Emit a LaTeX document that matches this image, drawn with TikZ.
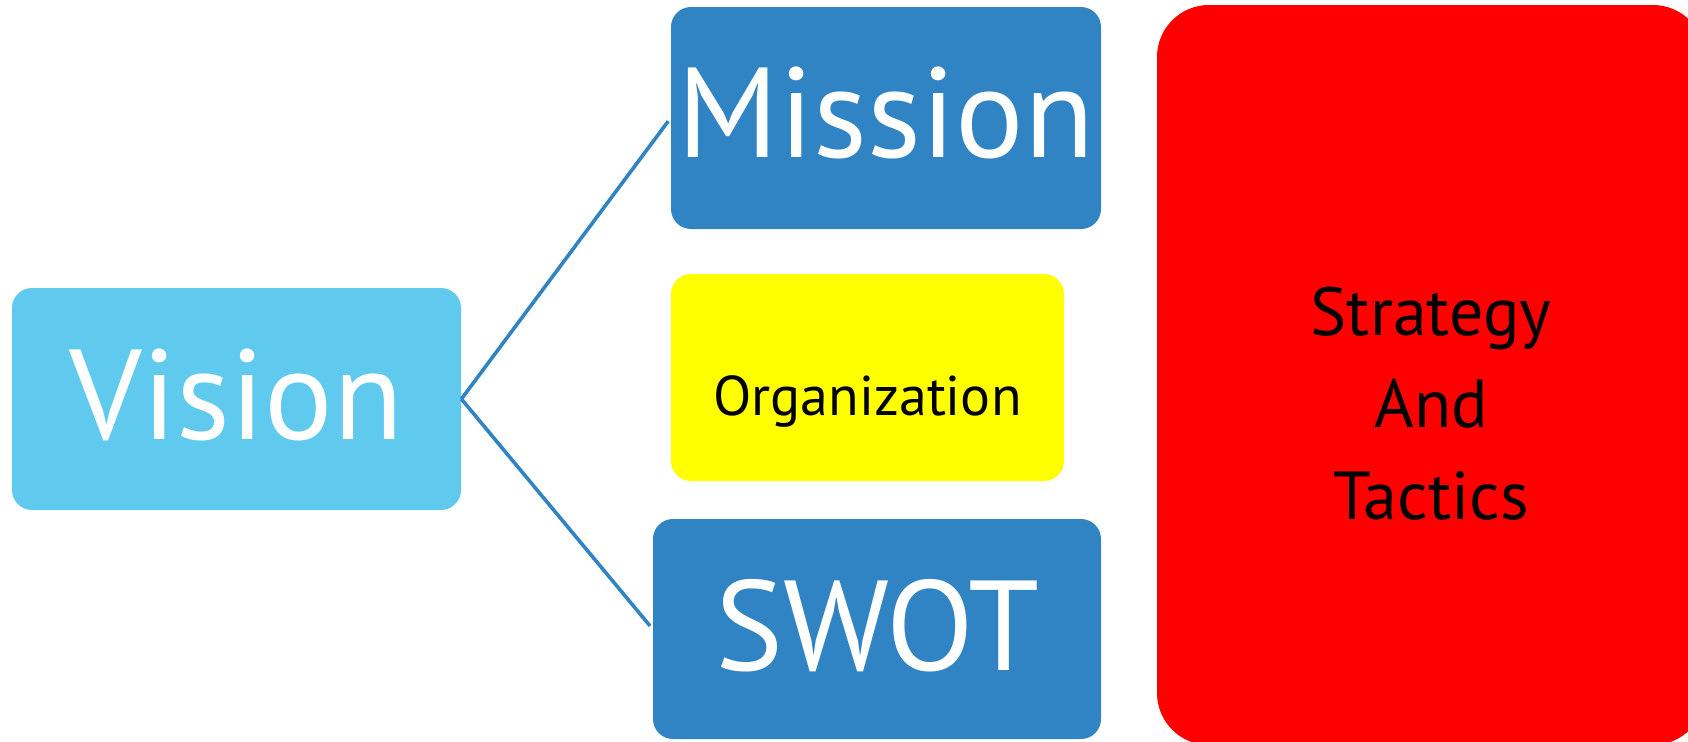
\documentclass[tikz,border=0pt]{standalone}
\usepackage{fontspec}
\setmainfont{PT Sans}
\usepackage{tikz}
\definecolor{visionblue}{HTML}{5FCAEE}
\definecolor{planblue}{HTML}{3084C3}
\definecolor{orgyellow}{HTML}{FFFF00}
\definecolor{tacticsred}{HTML}{FF0000}
\tikzset{
	card/.style={rectangle, rounded corners=10pt, inner sep=0pt},
	bigword/.style={text=white, font=\fontsize{64}{77}\selectfont, text height=#1, text depth=0pt},
	link/.style={draw=planblue, line width=1.8pt, shorten >=2pt},
}

\begin{document}
\begin{tikzpicture}[x=0.5pt, y=-0.5pt]
	\useasboundingbox (0,0) rectangle (1688,741);
	\clip (0,0) rectangle (1688,741);
	\node [card, fill=visionblue, minimum width=224.5pt, minimum height=111pt, bigword=40pt] (vision) at (236.5,399) {Vision};
	\node [card, fill=planblue, minimum width=215pt, minimum height=111pt, bigword=39pt] (mission) at (886,118) {Mission};
	\node [card, fill=orgyellow, minimum width=196.5pt, minimum height=103.5pt, font=\fontsize{28}{34}\selectfont, text height=37.5pt, text depth=0pt] (organization) at (867.5,377.5) {Organization};
	\node [card, fill=planblue, minimum width=224pt, minimum height=110pt, bigword=41pt] (swot) at (877,629) {SWOT};
	% the red card runs off the right and bottom edges
	\node [card, fill=tacticsred, rounded corners=26pt, minimum width=274pt, minimum height=370pt] (tactics) at (1431,375) {};
	\node [align=center, font=\fontsize{34}{46}\selectfont] (tacticstext) at ([yshift=-14.5pt]tactics.center) {Strategy\\And\\Tactics};
	\draw [link] (vision.east) -- (mission.west);
	\draw [link] (vision.east) -- (swot.west);
\end{tikzpicture}
\end{document}
